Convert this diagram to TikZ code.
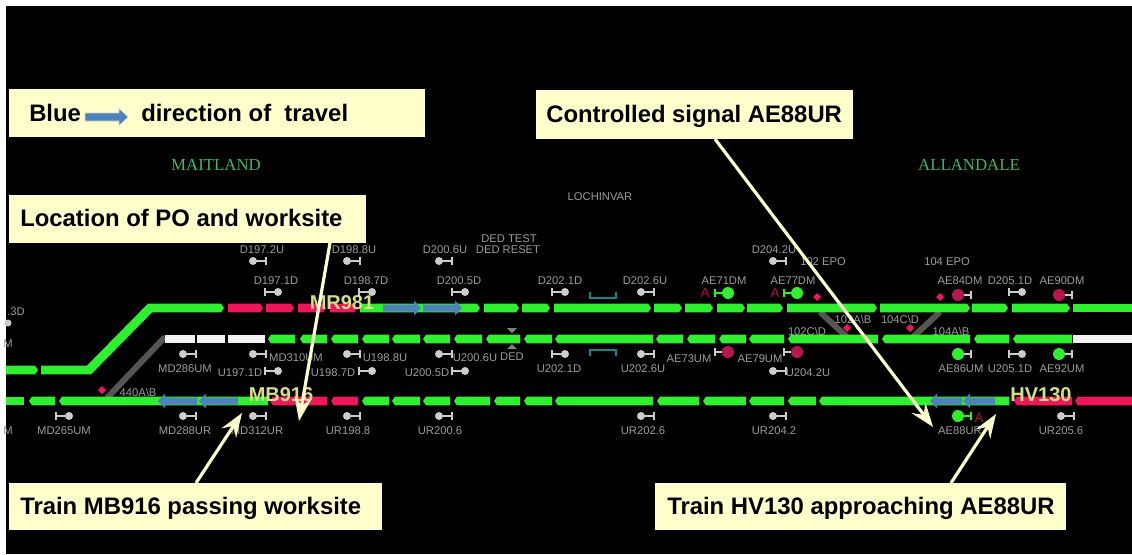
\documentclass[tikz,border=0pt]{standalone}
\usepackage{fontspec}
\setmainfont{Liberation Sans}
\newfontfamily\serifface{Liberation Serif}
\usetikzlibrary{arrows.meta}
\definecolor{trkgreen}{HTML}{2EF02E}
\definecolor{trkred}{HTML}{F0165A}
\definecolor{trkwhite}{HTML}{F2F2F2}
\definecolor{trkgrey}{HTML}{555555}
\definecolor{labgrey}{HTML}{9C9C9C}
\definecolor{siggrey}{HTML}{CCCCCC}
\definecolor{sigred}{HTML}{B5174F}
\definecolor{cream}{HTML}{FFFFCC}
\definecolor{trainblue}{HTML}{4F81BD}
\definecolor{trainyel}{HTML}{D8DE84}
\definecolor{stn}{HTML}{3FB868}
\definecolor{teal}{HTML}{0E8A8A}
\definecolor{alarm}{HTML}{B0104A}
\tikzset{
  x=0.75pt,y=-0.75pt,
  lab/.style={text=labgrey,font=\fontsize{8.4pt}{9pt}\selectfont,inner sep=0pt,anchor=center},
  callbox/.style={fill=cream,draw=none,inner sep=0pt,anchor=north west},
  calltext/.style={font=\bfseries\fontsize{17.9pt}{20pt}\selectfont,text=black,inner sep=0pt},
  callarrow/.style={draw=cream,line width=2.4pt,-{Stealth[length=18pt,width=13pt,inset=6.5pt]}},
  trainlab/.style={text=trainyel,font=\bfseries\fontsize{15pt}{16pt}\selectfont,inner sep=0pt},
  stnlab/.style={text=stn,font=\serifface\fontsize{12.6pt}{14pt}\selectfont,inner sep=0pt},
  alarmlab/.style={text=alarm,font=\fontsize{10pt}{10pt}\selectfont,inner sep=0pt},
  diam/.style={fill=trkred,draw=none},
}
% track section pointing right: x1,x2,y,colour
\newcommand{\segr}[4]{\fill[#4] (#1,#3-4.4) -- (#2-3,#3-4.4) -- (#2,#3) -- (#2-3,#3+4.4) -- (#1,#3+4.4) -- cycle;}
% track section pointing left
\newcommand{\segl}[4]{\fill[#4] (#2,#3-4.4) -- (#1+3,#3-4.4) -- (#1,#3) -- (#1+3,#3+4.4) -- (#2,#3+4.4) -- cycle;}
% plain section
\newcommand{\segp}[4]{\fill[#4] (#1,#3-4.4) rectangle (#2,#3+4.4);}
% blue train arrows: tail x, head x, y
\newcommand{\bluer}[3]{\fill[trainblue] (#1,#3-3.5) -- (#2-7,#3-3.5) -- (#2-7,#3-7.5) -- (#2,#3) -- (#2-7,#3+7.5) -- (#2-7,#3+3.5) -- (#1,#3+3.5) -- cycle;}
\newcommand{\bluel}[3]{\fill[trainblue] (#2,#3-3.5) -- (#1+7,#3-3.5) -- (#1+7,#3-7.5) -- (#1,#3) -- (#1+7,#3+7.5) -- (#1+7,#3+3.5) -- (#2,#3+3.5) -- cycle;}
% signal: x,y,dir,circle colour,stem colour,radius
\newcommand{\sigm}[6]{%
  \draw[#5,line width=1.2pt] (#1,#2) -- (#1+#3*13,#2);
  \draw[#5,line width=1.2pt] (#1+#3*13,#2-4) -- (#1+#3*13,#2+4);
  \fill[#4] (#1,#2) circle[radius=#6];}
\newcommand{\gs}[3]{\sigm{#1}{#2}{#3}{siggrey}{siggrey}{4}}
\newcommand{\dia}[2]{\fill[diam] (#1,#2-4) -- (#1+4,#2) -- (#1,#2+4) -- (#1-4,#2) -- cycle;}
\newcommand{\lab}[4]{\node[lab] (#1) at (#2,#3) {#4};}
\begin{document}
\begin{tikzpicture}
\useasboundingbox (0,0) rectangle (1132,554);
\fill[white] (0,0) rectangle (1132,554);
\fill[black] (6,6) rectangle (1132,554);

% crossovers (under the tracks)
\draw[trkgrey,line width=4.5pt] (165,337) -- (107,398);
\draw[trkgrey,line width=4.5pt] (820,312) -- (847,337);
\draw[trkgrey,line width=4.5pt] (940,312) -- (913,337);

% top line
\segr{6}{38}{370}{trkgreen}
\fill[trkgreen] (41,365.6) -- (87,365.6) -- (148,303.6) -- (221,303.6) -- (224,308) -- (221,312.4) -- (152,312.4) -- (91,374.4) -- (41,374.4) -- cycle;
\segr{228}{263}{308}{trkred}
\segr{266}{294}{308}{trkred}
\segr{298}{326}{308}{trkred}
\segr{330}{357}{308}{trkred}
\segr{360}{480}{308}{trkgreen}
\segr{484}{519}{308}{trkgreen}
\segr{522}{550}{308}{trkgreen}
\segr{554}{651}{308}{trkgreen}
\segr{654}{682}{308}{trkgreen}
\segr{685}{713}{308}{trkgreen}
\segr{717}{745}{308}{trkgreen}
\segr{747}{783}{308}{trkgreen}
\segr{787}{877}{308}{trkgreen}
\segr{880}{970}{308}{trkgreen}
\segr{972}{1008}{308}{trkgreen}
\segr{1012}{1070}{308}{trkgreen}
\segp{1073}{1132}{308}{trkgreen}

% middle line
\segp{165}{195}{339}{trkwhite}
\segp{197}{225}{339}{trkwhite}
\segp{228}{265}{339}{trkwhite}
\segl{268}{295}{339}{trkgreen}
\segl{300}{327}{339}{trkgreen}
\segl{331}{358}{339}{trkgreen}
\segl{362}{389}{339}{trkgreen}
\segl{392}{420}{339}{trkgreen}
\segl{423}{450}{339}{trkgreen}
\segl{454}{482}{339}{trkgreen}
\segl{486}{520}{339}{trkgreen}
\segl{524}{552}{339}{trkgreen}
\segl{555}{653}{339}{trkgreen}
\segl{656}{683}{339}{trkgreen}
\segl{687}{715}{339}{trkgreen}
\segl{719}{746}{339}{trkgreen}
\segl{749}{784}{339}{trkgreen}
\segl{788}{878}{339}{trkgreen}
\segl{882}{970}{339}{trkgreen}
\segl{974}{1009}{339}{trkgreen}
\segl{1013}{1072}{339}{trkgreen}
\segp{1073}{1132}{339}{trkwhite}

% bottom line
\segp{6}{24}{401}{trkgreen}
\segl{29}{55}{401}{trkgreen}
\segl{59}{268}{401}{trkgreen}
\segl{270}{327}{401}{trkred}
\segl{331}{358}{401}{trkred}
\segl{362}{389}{401}{trkgreen}
\segl{392}{420}{401}{trkgreen}
\segl{423}{450}{401}{trkgreen}
\segl{454}{490}{401}{trkgreen}
\segl{494}{520}{401}{trkgreen}
\segl{524}{552}{401}{trkgreen}
\segl{555}{653}{401}{trkgreen}
\segl{657}{699}{401}{trkgreen}
\segl{703}{746}{401}{trkgreen}
\segl{749}{784}{401}{trkgreen}
\segl{788}{816}{401}{trkgreen}
\segl{819}{1009}{401}{trkgreen}
\segl{1014}{1072}{401}{trkred}
\segl{1075}{1132}{401}{trkred}

% blue train arrows
\bluer{383}{421}{308}
\bluer{423}{462}{308}
\bluel{158}{197}{401}
\bluel{199}{238}{401}
\bluel{930}{962}{401}
\bluel{963}{995}{401}

% signals
\gs{253}{261}{1}
\gs{278}{292}{-1}
\gs{347}{261}{1}
\gs{372}{292}{-1}
\fill[siggrey] (8,323) circle[radius=3.5];
\gs{183}{354}{1}
\gs{253}{354}{1}
\gs{278}{371}{-1}
\gs{347}{354}{1}
\gs{372}{371}{-1}
\gs{69}{416}{-1}
\gs{183}{416}{1}
\gs{253}{416}{1}
\gs{347}{416}{1}
\gs{439}{261}{1}
\gs{465}{292}{-1}
\gs{565}{292}{-1}
\gs{641}{292}{1}
\gs{439}{354}{1}
\gs{465}{371}{-1}
\gs{565}{354}{-1}
\gs{641}{354}{1}
\gs{439}{416}{1}
\gs{641}{416}{1}
\gs{773}{261}{1}
\gs{773}{371}{1}
\gs{773}{416}{1}
\gs{1022}{292}{-1}
\gs{1022}{354}{-1}
\gs{1061}{416}{1}
\sigm{728}{293}{-1}{trkgreen}{trkgreen}{6}
\sigm{797}{293}{-1}{trkgreen}{trkgreen}{6}
\sigm{958}{416}{1}{trkgreen}{trkgreen}{6}
\sigm{958}{354}{1}{trkgreen}{siggrey}{6}
\sigm{1059}{354}{1}{trkgreen}{siggrey}{6}
\sigm{728}{352}{-1}{sigred}{siggrey}{6}
\sigm{797}{352}{-1}{sigred}{siggrey}{6}
\sigm{958}{295}{1}{sigred}{siggrey}{6}
\sigm{1059}{295}{1}{sigred}{siggrey}{6}

% diamonds
\dia{102}{390}
\dia{817}{297}
\dia{940}{297}
\dia{847}{328}
\dia{910}{328}

% detection brackets and DED marks
\draw[teal,line width=1.7pt] (590,292) -- (590,298) -- (616,298) -- (616,292);
\draw[teal,line width=1.7pt] (590,356) -- (590,350) -- (616,350) -- (616,356);
\fill[gray] (507,328) -- (517,328) -- (512,333) -- cycle;
\fill[gray] (507,349) -- (517,349) -- (512,344) -- cycle;

% labels
\lab{lD1972U}{262}{250}{D197.2U}
\lab{lD1971D}{276}{281}{D197.1D}
\lab{lD1988U}{354}{250}{D198.8U}
\lab{lD1987D}{366}{281}{D198.7D}
\lab{lD3}{16}{312}{.3D}
\lab{lM1}{8}{344}{M}
\lab{lM2}{8}{431}{M}
\lab{lMD286UM}{185}{369}{MD286UM}
\lab{lMD310UM}{296}{358}{MD310UM}
\lab{lU1971D}{240}{373}{U197.1D}
\lab{lU1988U}{385}{358}{U198.8U}
\lab{lU1987D}{333}{373}{U198.7D}
\lab{lMD265UM}{64}{431}{MD265UM}
\lab{lMD288UR}{185}{431}{MD288UR}
\lab{lMD312UR}{257}{431}{MD312UR}
\lab{lUR1988}{348}{431}{UR198.8}
\lab{lUR2006}{440}{431}{UR200.6}
\lab{lUR2026}{643}{431}{UR202.6}
\lab{lUR2042}{774}{431}{UR204.2}
\lab{lAE88UR}{960}{431}{AE88UR}
\lab{lUR2056}{1061}{431}{UR205.6}
\lab{lD2006U}{445}{250}{D200.6U}
\lab{lD2005D}{459}{281}{D200.5D}
\lab{lD2021D}{560}{281}{D202.1D}
\lab{lD2026U}{645}{281}{D202.6U}
\lab{lU2006U}{475}{358}{U200.6U}
\lab{lU2005D}{427}{373}{U200.5D}
\lab{lU2021D}{559}{369}{U202.1D}
\lab{lU2026U}{643}{369}{U202.6U}
\lab{lDEDT}{509}{239}{DED TEST}
\lab{lDEDR}{508}{250}{DED RESET}
\lab{lDED}{512}{357}{DED}
\lab{lLOCH}{600}{197}{LOCHINVAR}
\lab{lAE71DM}{724}{281}{AE71DM}
\lab{lAE73UM}{689}{359}{AE73UM}
\lab{lAE79UM}{760}{359}{AE79UM}
\lab{lD2042U}{774}{250}{D204.2U}
\lab{lAE77DM}{793}{281}{AE77DM}
\lab{l102EPO}{823}{262}{102 EPO}
\lab{l104EPO}{947}{262}{104 EPO}
\lab{lAE84DM}{960}{281}{AE84DM}
\lab{lD2051D}{1010}{281}{D205.1D}
\lab{lAE90DM}{1062}{281}{AE90DM}
\lab{l102AB}{853}{319}{102A\textbackslash B}
\lab{l104CD}{900}{319}{104C\textbackslash D}
\lab{l102CD}{807}{331}{102C\textbackslash D}
\lab{l104AB}{951}{331}{104A\textbackslash B}
\lab{l440AB}{138}{392}{440A\textbackslash B}
\lab{lAE86UM}{961}{369}{AE86UM}
\lab{lU2051D}{1010}{369}{U205.1D}
\lab{lAE92UM}{1062}{369}{AE92UM}
\lab{lU2042U}{808}{373}{U204.2U}
\node[alarmlab] (a1) at (705,293) {A};
\node[alarmlab] (a2) at (775,293) {A};
\node[alarmlab] (a3) at (979,418) {A};

% station names and trains
\node[stnlab] (maitland) at (216,165) {MAITLAND};
\node[stnlab] (allandale) at (969,165) {ALLANDALE};
\node[trainlab] (mr981) at (342,303) {MR981};
\node[trainlab] (mb916) at (281,395) {MB916};
\node[trainlab] (hv130) at (1041,395) {HV130};

% callout boxes
\node[callbox,minimum width=312pt,minimum height=36pt] (boxblue) at (9,89) {};
\node[callbox,minimum width=267.75pt,minimum height=36pt] (boxloc) at (9,195) {};
\node[callbox,minimum width=237.75pt,minimum height=36.75pt] (boxctl) at (536,90) {};
\node[callbox,minimum width=279.75pt,minimum height=35.25pt] (boxmb) at (9,483) {};
\node[callbox,minimum width=308.25pt,minimum height=35.25pt] (boxhv) at (655,483) {};

\node[calltext,anchor=west] (tblue) at (29,113) {Blue};
\node[calltext,anchor=west] (tdir) at (141,113) {direction of\ \ travel};
\fill[trainblue,draw=cream!70!trainblue,line width=0.4pt] (85,113) -- (119,113) -- (119,108.5) -- (128,117) -- (119,125.5) -- (119,121) -- (85,121) -- cycle;
\node[calltext,anchor=west] (tloc) at (20,218) {Location of PO and worksite};
\node[calltext,anchor=west] (tctl) at (546,116) {Controlled signal AE88UR};
\node[calltext,anchor=west] (tmb) at (20,508.5) {Train MB916 passing worksite};
\node[calltext,anchor=west] (thv) at (667,508.5) {Train HV130 approaching AE88UR};

% callout arrows
\coordinate (sctl) at (715,139);
\coordinate (ectl) at (933,427);
\coordinate (sloc) at (330,243);
\coordinate (eloc) at (299,421);
\coordinate (smb) at (196,483);
\coordinate (emb) at (242,413);
\coordinate (shv) at (951,483);
\coordinate (ehv) at (996,414);
\draw[callarrow] (sctl) -- (ectl);
\draw[callarrow] (sloc) -- (eloc);
\draw[callarrow] (smb) -- (emb);
\draw[callarrow] (shv) -- (ehv);
\end{tikzpicture}
\end{document}
